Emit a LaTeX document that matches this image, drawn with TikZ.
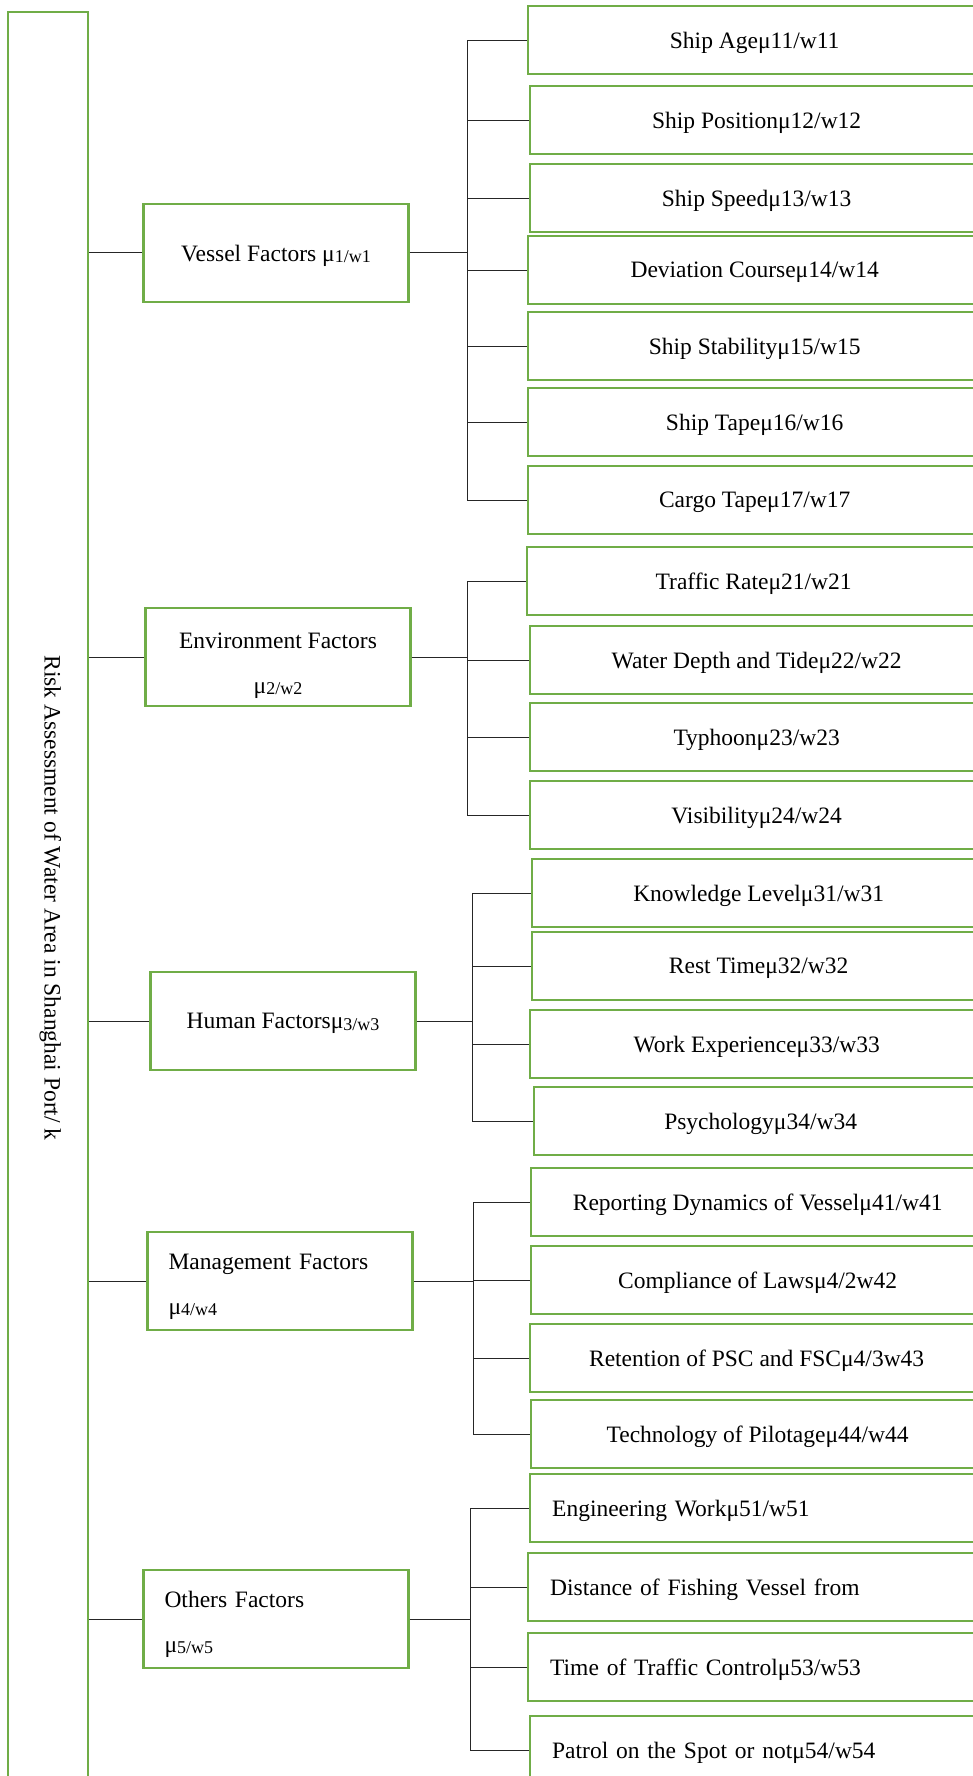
\documentclass[tikz,border=0pt]{standalone}
\usepackage{fontspec}
\setmainfont{Liberation Serif}
\usepackage{tikz}
\usetikzlibrary{positioning}
\definecolor{boxgreen}{RGB}{112,173,71}
\newcommand{\lowidx}[1]{\raisebox{-1.5pt}{\fontsize{18}{18}\selectfont #1}}
\tikzset{
    basic/.style       = {draw=boxgreen, line width=2.3pt, rectangle, inner sep=0pt, font=\fontsize{23.5}{45}\selectfont},
    root box/.style    = {basic, minimum width=1772pt, minimum height=80pt, rotate=-90, text depth=10pt},
    factor box/.style  = {basic, minimum width=265pt, minimum height=98pt, align=center, text depth=0pt},
    factor two/.style  = {factor box, text height=72pt},
    factor left/.style = {basic, minimum width=265pt, minimum height=98pt, text width=223pt, inner xsep=21pt, align=left, text height=17pt, text depth=41pt},
    item box/.style    = {basic, anchor=north west, minimum width=453pt, minimum height=68pt, align=center, text depth=0pt},
    item left/.style   = {item box, text width=409pt, inner xsep=22pt, align=left},
    link/.style        = {draw=black!85, line width=1pt}
}

\begin{document}
\begin{tikzpicture}[x=1pt, y=-1pt]
	\useasboundingbox (0,0) rectangle (973,1776);
	\clip (0,0) rectangle (973,1776);

	\node[root box] (risk) at (48,898) {Risk Assessment of Water Area in Shanghai Port/ k};

	% factors
	\node[factor box]  (vessel)  at (276,253)  {Vessel Factors μ\lowidx{1/w1}};
	\node[factor two]  (environ) at (278,657)  {Environment Factors\\μ\lowidx{2/w2}};
	\node[factor box]  (human)   at (283,1021) {Human Factorsμ\lowidx{3/w3}};
	\node[factor left] (manage)  at (280,1281) {Management Factors\\μ\lowidx{4/w4}};
	\node[factor left] (others)  at (276,1619) {Others Factors\\μ\lowidx{5/w5}};

	% sub factors
	\begin{scope}[every node/.style={item box}]
		\node (sa1) at (527,5)   {Ship Ageμ11/w11};
		\node (sa2) at (529,85)  {Ship Positionμ12/w12};
		\node (sa3) at (529,163) {Ship Speedμ13/w13};
		\node (sa4) at (527,235) {Deviation Courseμ14/w14};
		\node (sa5) at (527,311) {Ship Stabilityμ15/w15};
		\node (sa6) at (527,387) {Ship Tapeμ16/w16};
		\node (sa7) at (527,465) {Cargo Tapeμ17/w17};
		\node (sb1) at (526,546) {Traffic Rateμ21/w21};
		\node (sb2) at (529,625) {Water Depth and Tideμ22/w22};
		\node (sb3) at (529,702) {Typhoonμ23/w23};
		\node (sb4) at (529,780) {Visibilityμ24/w24};
		\node (sc1) at (531,858)  {Knowledge Levelμ31/w31};
		\node (sc2) at (531,931)  {Rest Timeμ32/w32};
		\node (sc3) at (529,1009) {Work Experienceμ33/w33};
		\node (sc4) at (533,1086) {Psychologyμ34/w34};
		\node (sd1) at (530,1167) {Reporting Dynamics of Vesselμ41/w41};
		\node (sd2) at (530,1245) {Compliance of Lawsμ4/2w42};
		\node (sd3) at (529,1323) {Retention of PSC and FSCμ4/3w43};
		\node (sd4) at (530,1399) {Technology of Pilotageμ44/w44};
	\end{scope}
	\begin{scope}[every node/.style={item left}]
		\node (se1) at (529,1473) {Engineering Workμ51/w51};
		\node (se2) at (527,1552) {Distance of Fishing Vessel from};
		\node (se3) at (527,1632) {Time of Traffic Controlμ53/w53};
		\node (se4) at (529,1715) {Patrol on the Spot or notμ54/w54};
	\end{scope}

	% brackets
	\coordinate (bv) at (467,0);
	\coordinate (be) at (467,0);
	\coordinate (bh) at (472,0);
	\coordinate (bm) at (473,0);
	\coordinate (bo) at (470,0);

	\draw[link] (risk.north |- vessel) -- (vessel.west)
		(risk.north |- environ) -- (environ.west)
		(risk.north |- human) -- (human.west)
		(risk.north |- manage) -- (manage.west)
		(risk.north |- others) -- (others.west);

	\draw[link] (vessel.east) -- (vessel.east -| bv) (bv |- sa1) -- (bv |- sa7)
		(bv |- sa1) -- (sa1.west) (bv |- sa2) -- (sa2.west) (bv |- sa3) -- (sa3.west)
		(bv |- sa4) -- (sa4.west) (bv |- sa5) -- (sa5.west) (bv |- sa6) -- (sa6.west)
		(bv |- sa7) -- (sa7.west);
	\draw[link] (environ.east) -- (environ.east -| be) (be |- sb1) -- (be |- sb4)
		(be |- sb1) -- (sb1.west) (be |- sb2) -- (sb2.west) (be |- sb3) -- (sb3.west)
		(be |- sb4) -- (sb4.west);
	\draw[link] (human.east) -- (human.east -| bh) (bh |- sc1) -- (bh |- sc4)
		(bh |- sc1) -- (sc1.west) (bh |- sc2) -- (sc2.west) (bh |- sc3) -- (sc3.west)
		(bh |- sc4) -- (sc4.west);
	\draw[link] (manage.east) -- (manage.east -| bm) (bm |- sd1) -- (bm |- sd4)
		(bm |- sd1) -- (sd1.west) (bm |- sd2) -- (sd2.west) (bm |- sd3) -- (sd3.west)
		(bm |- sd4) -- (sd4.west);
	\draw[link] (others.east) -- (others.east -| bo) (bo |- se1) -- (bo |- se4)
		(bo |- se1) -- (se1.west) (bo |- se2) -- (se2.west) (bo |- se3) -- (se3.west)
		(bo |- se4) -- (se4.west);
\end{tikzpicture}
\end{document}
